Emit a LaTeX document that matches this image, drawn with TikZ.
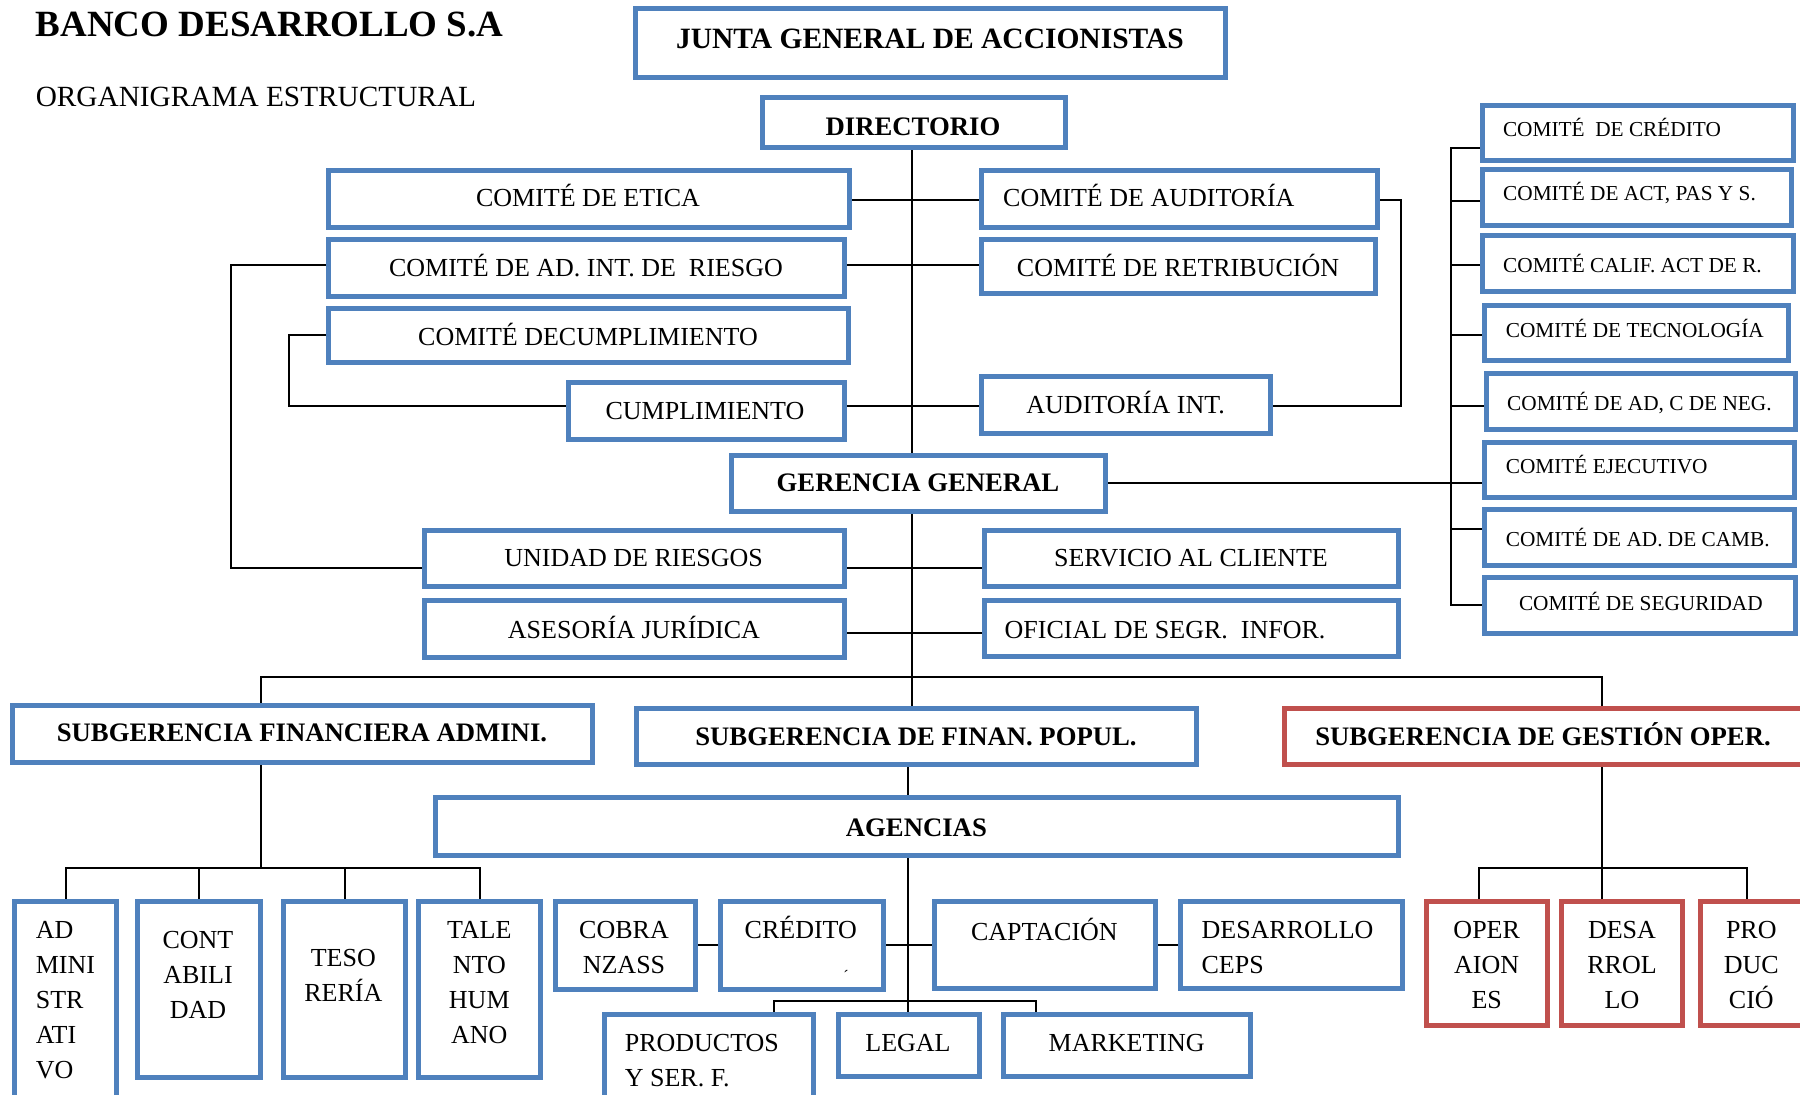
\documentclass[tikz,border=0pt]{standalone}
\usepackage{fontspec}
\setmainfont{Liberation Serif}
\usetikzlibrary{calc,backgrounds}
\definecolor{boxblue}{HTML}{4F81BD}
\definecolor{boxred}{HTML}{C0504D}

% \orgunit[style]{name}{x1}{y1}{x2}{y2}: box given by its outer edges
\newcommand\orgunit[6][]{%
  \pgfmathsetmacro\bw{#5-#3-5}%
  \pgfmathsetmacro\bh{#6-#4-5}%
  \node[orgbox,#1,minimum width=\bw pt,minimum height=\bh pt,anchor=north west] (#2) at (#3+2.5,#4+2.5) {};}
% stacked lines of a label, baseline on the first line
\newcommand\stackl[2]{\begin{tabular}[t]{@{}#1@{}}#2\end{tabular}}

\begin{document}
\begin{tikzpicture}[x=1pt,y=-1pt,
  orgbox/.style={rectangle,draw=boxblue,line width=5pt,fill=white,inner sep=0pt,outer sep=0pt},
  redbox/.style={draw=boxred},
  lbl/.style={inner sep=0pt,anchor=base,font=\fontsize{26}{35}\selectfont},
  hdr/.style={inner sep=0pt,anchor=base,font=\bfseries\fontsize{26.7}{32}\selectfont},
  cmt/.style={inner sep=0pt,anchor=base west,font=\fontsize{21.3}{26}\selectfont},
  link/.style={draw=black,line width=2pt}]

\useasboundingbox (0,0) rectangle (1800,1095);
\begin{scope}[on background layer]
  \fill[white] (0,0) rectangle (1800,1095);
\end{scope}

% title
\node[inner sep=0pt,anchor=base west,font=\bfseries\fontsize{37}{40}\selectfont] (title) at (35.6,36.7) {BANCO DESARROLLO S.A};
\node[inner sep=0pt,anchor=base west,font=\fontsize{29.3}{34}\selectfont] (subtitle) at (35.6,106) {ORGANIGRAMA ESTRUCTURAL};

% boxes
\orgunit{junta}{633}{6}{1228}{80}
\orgunit{dir}{760}{95}{1068}{150}
\orgunit{etica}{326}{168}{852}{230}
\orgunit{riesgo}{326}{237}{847}{299}
\orgunit{ccumpl}{326}{306}{851}{365}
\orgunit{cumpl}{566}{380}{847}{442}
\orgunit{audit}{979}{168}{1380}{230}
\orgunit{retrib}{979}{237}{1378}{296}
\orgunit{audint}{979}{374}{1273}{436}
\orgunit{credc}{1480}{103}{1796}{163}
\orgunit{actpas}{1480}{167}{1794}{228}
\orgunit{calif}{1480}{233}{1796}{294}
\orgunit{tecno}{1482}{303}{1791}{363}
\orgunit{negoc}{1484}{371}{1798}{432}
\orgunit{ejec}{1482}{440}{1797}{500}
\orgunit{camb}{1482}{507}{1797}{568}
\orgunit{segur}{1482}{575}{1798}{636}
\orgunit{gerencia}{729}{453}{1108}{514}
\orgunit{unidad}{422}{528}{847}{589}
\orgunit{asesor}{422}{598}{847}{660}
\orgunit{servicio}{982}{528}{1401}{589}
\orgunit{oficial}{982}{598}{1401}{659}
\orgunit{subfin}{10}{703}{595}{765}
\orgunit{subpop}{634}{706}{1199}{767}
\orgunit[redbox]{subges}{1282}{706}{1806}{767}
\orgunit{agencias}{433}{795}{1401}{858}
\orgunit{admin}{12}{899}{119}{1110}
\orgunit{conta}{135}{899}{263}{1080}
\orgunit{teso}{281}{899}{408}{1080}
\orgunit{talento}{416}{899}{543}{1080}
\orgunit{cobra}{553}{899}{698}{992}
\orgunit{credito}{718}{899}{886}{992}
\orgunit{capta}{932}{899}{1158}{991}
\orgunit{desceps}{1178}{899}{1405}{991}
\orgunit{produc}{602}{1012}{816}{1110}
\orgunit{legal}{836}{1012}{982}{1079}
\orgunit{market}{1001}{1012}{1253}{1079}
\orgunit[redbox]{oper}{1424}{899}{1550}{1028}
\orgunit[redbox]{desa}{1559}{899}{1685}{1028}
\orgunit[redbox]{prodn}{1698}{899}{1806}{1028}

% headings
\node[hdr,font=\bfseries\fontsize{29.5}{34}\selectfont] (t-junta) at (930,48) {JUNTA GENERAL DE ACCIONISTAS};
\node[hdr] (t-dir) at (913,135) {DIRECTORIO};
\node[hdr] (t-ger) at (918,491.7) {GERENCIA GENERAL};
\node[hdr] (t-subfin) at (302,741.7) {SUBGERENCIA FINANCIERA ADMINI.};
\node[hdr] (t-subpop) at (916,745) {SUBGERENCIA DE FINAN. POPUL.};
\node[hdr] (t-subges) at (1543,745) {SUBGERENCIA DE GESTIÓN OPER.};
\node[hdr] (t-agen) at (916.4,836.7) {AGENCIAS};

% central column labels
\node[lbl] (t-etica) at (588,206.7) {COMITÉ DE ETICA};
\node[lbl] (t-riesgo) at (586,276.7) {COMITÉ DE AD. INT. DE~ RIESGO};
\node[lbl] (t-ccumpl) at (588,345) {COMITÉ DECUMPLIMIENTO};
\node[lbl] (t-cumpl) at (705,419) {CUMPLIMIENTO};
\node[lbl,anchor=base west] (t-audit) at (1003,206.7) {COMITÉ DE AUDITORÍA};
\node[lbl] (t-retrib) at (1178,276.7) {COMITÉ DE RETRIBUCIÓN};
\node[lbl] (t-audint) at (1125.6,413) {AUDITORÍA INT.};
\node[lbl] (t-unidad) at (633.7,566.7) {UNIDAD DE RIESGOS};
\node[lbl] (t-asesor) at (634,638) {ASESORÍA JURÍDICA};
\node[lbl] (t-servicio) at (1191,566.7) {SERVICIO AL CLIENTE};
\node[lbl,anchor=base west] (t-oficial) at (1004.5,638) {OFICIAL DE SEGR.~ INFOR.};

% committees on the right
\node[cmt] (t-credc) at (1502.8,136.7) {COMITÉ~ DE CRÉDITO};
\node[cmt] (t-actpas) at (1503,200) {COMITÉ DE ACT, PAS Y S.};
\node[cmt] (t-calif) at (1503,272) {COMITÉ CALIF. ACT DE R.};
\node[cmt] (t-tecno) at (1505.6,337) {COMITÉ DE TECNOLOGÍA};
\node[cmt] (t-negoc) at (1507,410) {COMITÉ DE AD, C DE NEG.};
\node[cmt] (t-ejec) at (1505.6,473.3) {COMITÉ EJECUTIVO};
\node[cmt] (t-camb) at (1505.6,546.7) {COMITÉ DE AD. DE CAMB.};
\node[cmt] (t-segur) at (1518.8,610) {COMITÉ DE SEGURIDAD};

% bottom row
\node[lbl,anchor=base west] (t-admin) at (35.6,938.3) {\stackl{l}{AD\\MINI\\STR\\ATI\\VO}};
\node[lbl] (t-conta) at (198,948.3) {\stackl{c}{CONT\\ABILI\\DAD}};
\node[lbl] (t-teso) at (343.3,966.7) {\stackl{c}{TESO\\RERÍA}};
\node[lbl] (t-talento) at (479.3,938.3) {\stackl{c}{TALE\\NTO\\HUM\\ANO}};
\node[lbl] (t-cobra) at (624,938.3) {\stackl{c}{COBRA\\NZASS}};
\node[lbl] (t-credito) at (800.8,938.3) {CRÉDITO};
\node[inner sep=0pt,font=\fontsize{16}{16}\selectfont] (t-credmark) at (846,976) {´};
\node[lbl] (t-capta) at (1044.4,940) {CAPTACIÓN};
\node[lbl,anchor=base west] (t-desceps) at (1201.4,938.3) {\stackl{l}{DESARROLLO\\CEPS}};
\node[lbl,anchor=base west] (t-produc) at (624.6,1051.7) {\stackl{l}{PRODUCTOS\\Y SER. F.}};
\node[lbl] (t-legal) at (908,1051.7) {LEGAL};
\node[lbl] (t-market) at (1126.7,1051.7) {MARKETING};
\node[lbl] (t-oper) at (1486.7,938.3) {\stackl{c}{OPER\\AION\\ES}};
\node[lbl] (t-desa) at (1622,938.3) {\stackl{c}{DESA\\RROL\\LO}};
\node[lbl] (t-prodn) at (1751.3,938.3) {\stackl{c}{PRO\\DUC\\CIÓ}};

% connector rows and columns
\coordinate (trunk) at (912,0);
\coordinate (yEt) at (0,200);
\coordinate (yRi) at (0,265);
\coordinate (yCc) at (0,335);
\coordinate (yCu) at (0,406);
\coordinate (yUn) at (0,568);
\coordinate (yAs) at (0,633);
\coordinate (yGe) at (0,483);
\coordinate (xAu) at (1401,0);
\coordinate (xRi) at (231,0);
\coordinate (xCu) at (289,0);
\coordinate (xSp) at (1451,0);
\coordinate (yS1) at (0,148);
\coordinate (yS2) at (0,201);
\coordinate (yS3) at (0,265);
\coordinate (yS4) at (0,335);
\coordinate (yS5) at (0,406);
\coordinate (yS7) at (0,529);
\coordinate (yS8) at (0,605);
\coordinate (finx) at (261,677);
\coordinate (gesx) at (1601.5,677);
\coordinate (fbus) at (0,868);
\coordinate (popx) at (908,0);
\coordinate (yCr) at (0,945);
\coordinate (pbusL) at (774,1001);
\coordinate (pbusR) at (1036,1001);
\coordinate (xOp) at (1479,0);
\coordinate (xPd) at (1747,0);

\begin{scope}[on background layer]
  \draw[link] (dir.south -| trunk) -- (gerencia.north -| trunk);
  \draw[link] (gerencia.south -| trunk) -- (subpop.north -| trunk);
  \draw[link] (etica.east |- yEt) -- (audit.west |- yEt);
  \draw[link] (riesgo.east |- yRi) -- (retrib.west |- yRi);
  \draw[link] (cumpl.east |- yCu) -- (audint.west |- yCu);
  \draw[link] (unidad.east |- yUn) -- (servicio.west |- yUn);
  \draw[link] (asesor.east |- yAs) -- (oficial.west |- yAs);
  \draw[link] (audit.east |- yEt) -| (xAu |- yCu) -- (audint.east |- yCu);
  \draw[link] (riesgo.west |- yRi) -| (xRi |- yUn) -- (unidad.west |- yUn);
  \draw[link] (ccumpl.west |- yCc) -| (xCu |- yCu) -- (cumpl.west |- yCu);
  \draw[link] (gerencia.east |- yGe) -- (ejec.west |- yGe);
  \draw[link] (credc.west |- yS1) -| (xSp |- yS8) -- (segur.west |- yS8);
  \foreach \bx/\by in {actpas/yS2,calif/yS3,tecno/yS4,negoc/yS5,camb/yS7}
    \draw[link] (\bx.west |- \by) -- (xSp |- \by);
  \draw[link] (subfin.north -| finx) -- (finx) -- (gesx) -- (subges.north -| gesx);
  \draw[link] (subfin.south -| finx) -- (finx |- fbus);
  \draw[link] (admin.north) -- (admin.north |- fbus) -- (talento.north |- fbus) -- (talento.north);
  \draw[link] (conta.north) -- (conta.north |- fbus);
  \draw[link] (teso.north) -- (teso.north |- fbus);
  \draw[link] (subpop.south -| popx) -- (agencias.north -| popx);
  \draw[link] (agencias.south -| popx) -- (legal.north -| popx);
  \draw[link] (cobra.east |- yCr) -- (credito.west |- yCr);
  \draw[link] (credito.east |- yCr) -- (capta.west |- yCr);
  \draw[link] (capta.east |- yCr) -- (desceps.west |- yCr);
  \draw[link] (produc.north -| pbusL) -- (pbusL) -- (pbusR) -- (market.north -| pbusR);
  \draw[link] (subges.south -| gesx) -- (desa.north -| gesx);
  \draw[link] (oper.north -| xOp) -- (xOp |- fbus) -- (xPd |- fbus) -- (prodn.north -| xPd);
\end{scope}
\end{tikzpicture}
\end{document}
